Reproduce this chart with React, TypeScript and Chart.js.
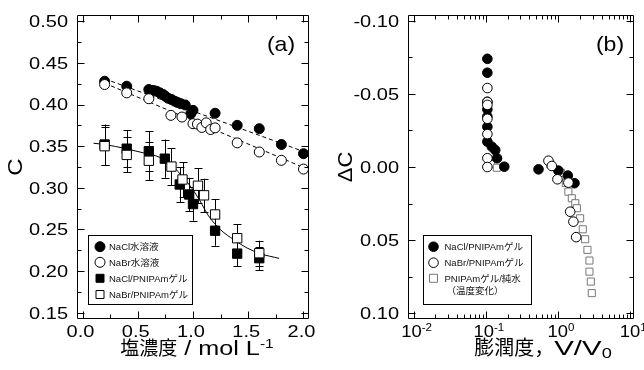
import React, { useEffect, useRef } from 'react';
import { Chart, registerables } from 'chart.js';

Chart.register(...registerables);

// ================= Panel (a): C vs salt concentration =================
const concTicks = [0, 0.5, 1.0, 1.5, 2.0];
const concMinor = [0.25, 0.75, 1.25, 1.75];
const cTicks = [0.15, 0.2, 0.25, 0.3, 0.35, 0.4, 0.45, 0.5];
const cMinor = [0.175, 0.225, 0.275, 0.325, 0.375, 0.425, 0.475];

const naclWaterConc = [0.2, 0.4, 0.6, 0.64, 0.67, 0.7, 0.73, 0.75, 0.775, 0.805, 0.835, 0.86, 0.89, 0.93, 0.98, 1.0, 1.2, 1.4, 1.6, 1.8, 2.0];
const naclWaterC = [0.428, 0.422, 0.418, 0.417, 0.416, 0.414, 0.412, 0.41, 0.4075, 0.406, 0.404, 0.4025, 0.401, 0.3995, 0.389, 0.393, 0.3895, 0.375, 0.371, 0.352, 0.341];

const nabrWaterConc = [0.2, 0.4, 0.6, 0.8, 0.9, 1.0, 1.04, 1.08, 1.12, 1.16, 1.2, 1.4, 1.6, 1.8, 2.0];
const nabrWaterC = [0.424, 0.414, 0.407, 0.387, 0.385, 0.377, 0.3765, 0.3725, 0.378, 0.37, 0.372, 0.354, 0.343, 0.333, 0.3225];

const naclGelConc = [0.2, 0.4, 0.6, 0.745, 0.88, 0.965, 1.0, 1.2, 1.4, 1.6];
const naclGelC = [0.352, 0.347, 0.344, 0.335, 0.304, 0.292, 0.2805, 0.2485, 0.221, 0.2155];
const naclGelErr = [0.024, 0.022, 0.024, 0.023, 0.021, 0.02, 0.02, 0.018, 0.015, 0.014];

const nabrGelConc = [0.2, 0.4, 0.6, 0.805, 0.905, 1.045, 1.1, 1.2, 1.4, 1.6];
const nabrGelC = [0.35, 0.3395, 0.3325, 0.3255, 0.31, 0.3025, 0.291, 0.268, 0.2395, 0.2215];
const nabrGelErr = [0.023, 0.021, 0.023, 0.022, 0.021, 0.021, 0.02, 0.018, 0.017, 0.015];

const naclWaterFitConc = [0.2, 2.05];
const naclWaterFitC = [0.4309, 0.3412];
const nabrWaterFitConc = [0.2, 2.05];
const nabrWaterFitC = [0.4257, 0.3216];

const gelFitConc = [0.1, 0.2, 0.4, 0.55, 0.7, 0.82, 0.91, 0.99, 1.06, 1.14, 1.25, 1.37, 1.49, 1.61, 1.78];
const gelFitC = [0.3535, 0.352, 0.3468, 0.342, 0.3365, 0.3255, 0.3125, 0.2995, 0.285, 0.2665, 0.2496, 0.2377, 0.2277, 0.2209, 0.2153];

const seriesA = ['NaCl水溶液', 'NaBr水溶液', 'NaCl/PNIPAmゲル', 'NaBr/PNIPAmゲル'];

// ================= Panel (b): ΔC vs swelling ratio =================
const swellTicks = [0.01, 0.1, 1, 10];
const swellMinor = [0.02, 0.03, 0.04, 0.05, 0.06, 0.07, 0.08, 0.09, 0.2, 0.3, 0.4, 0.5, 0.6, 0.7, 0.8, 0.9, 2, 3, 4, 5, 6, 7, 8, 9];
const dcTicks = [-0.1, -0.05, 0, 0.05, 0.1];
const dcMinor = [-0.075, -0.025, 0.025, 0.075];

const naclSwell = [0.105, 0.105, 0.105, 0.105, 0.105, 0.105, 0.105, 0.121, 0.135, 0.143, 0.18, 0.536, 1.01, 1.365, 1.687];
const naclDC = [-0.074, -0.0645, -0.0446, -0.0394, -0.0345, -0.0275, -0.0173, -0.0139, -0.0116, -0.006, -0.0002, 0.0016, 0.0025, 0.0059, 0.0111];

const nabrSwell = [0.105, 0.105, 0.105, 0.105, 0.105, 0.105, 0.105, 0.736, 0.82, 0.98, 1.39, 1.47, 1.63, 1.78];
const nabrDC = [-0.054, -0.0445, -0.0425, -0.033, -0.0225, -0.006, 0.0, -0.0043, -0.0007, 0.0084, 0.0107, 0.0306, 0.0374, 0.048];

const waterSwell = [0.118, 0.142, 0.78, 1.1, 1.28, 1.39, 1.55, 1.73, 1.82, 2.02, 2.2, 2.37, 2.55, 2.72, 2.72, 2.84, 2.93];
const waterDC = [-0.002, 0.0005, -0.002, 0.004, 0.011, 0.0169, 0.0214, 0.0248, 0.0282, 0.0351, 0.0426, 0.0494, 0.0567, 0.064, 0.0716, 0.0784, 0.0863];

const seriesB = ['NaCl/PNIPAmゲル', 'NaBr/PNIPAmゲル', 'PNIPAmゲル/純水\n（温度変化）'];

// ================= helpers =================
const LATIN = "'Liberation Sans', Arial, Helvetica, sans-serif";
const MIX = "'Liberation Sans', 'Noto Sans CJK JP', sans-serif";
const CJK = "'Noto Sans CJK JP', 'Liberation Sans', sans-serif";

const zip = (xs: number[], ys: number[]) => xs.map((x, i) => ({ x, y: ys[i] }));

interface Seg { text: string; size: number; family?: string; sx?: number; dy?: number }

function drawText(ctx: CanvasRenderingContext2D, segs: Seg[], x: number, y: number, align: 'left' | 'center' | 'right', rot = 0, color = '#000') {
  ctx.save();
  ctx.translate(x, y);
  if (rot) ctx.rotate(rot);
  ctx.fillStyle = color;
  ctx.textBaseline = 'alphabetic';
  ctx.textAlign = 'left';
  const widths = segs.map((s) => {
    ctx.font = `${s.size}px ${s.family ?? LATIN}`;
    return ctx.measureText(s.text).width * (s.sx ?? 1);
  });
  const total = widths.reduce((a, b) => a + b, 0);
  let cx = align === 'center' ? -total / 2 : align === 'right' ? -total : 0;
  segs.forEach((s, i) => {
    ctx.save();
    ctx.font = `${s.size}px ${s.family ?? LATIN}`;
    ctx.translate(cx, s.dy ?? 0);
    ctx.scale(s.sx ?? 1, 1);
    ctx.fillText(s.text, 0, 0);
    ctx.restore();
    cx += widths[i];
  });
  ctx.restore();
}

function drawMarker(ctx: CanvasRenderingContext2D, style: string, r: number, x: number, y: number, fill: string, stroke: string) {
  ctx.save();
  ctx.fillStyle = fill;
  ctx.strokeStyle = stroke;
  ctx.lineWidth = 1;
  ctx.beginPath();
  if (style === 'circle') ctx.arc(x, y, r, 0, Math.PI * 2);
  else ctx.rect(x - r, y - r, 2 * r, 2 * r);
  ctx.fill();
  ctx.stroke();
  ctx.restore();
}

interface Spec {
  xMinor: number[];
  yMinor: number[];
  xLabel: (v: number) => Seg[];
  yLabel: (v: number) => string;
  xLabelShift: number;
  xTitle: Seg[];
  xTitleX: number;
  yTitle: Seg[];
  tag: string;
  tagX: number;
  legend: { left: number; top: number; right: number; bottom: number; markerX: number; textX: number; rows: number[]; lineGap: number; count: number };
}

function makeDecor(spec: Spec) {
  return {
    id: 'panelDecor',
    beforeDatasetsDraw(chart: any) {
      const { ctx } = chart;
      const ys = chart.scales.y;
      ctx.save();
      ctx.strokeStyle = '#000';
      ctx.lineWidth = 1;
      chart.data.datasets.forEach((ds: any, di: number) => {
        if (!ds.errors) return;
        const meta = chart.getDatasetMeta(di);
        meta.data.forEach((pt: any, i: number) => {
          const v = ds.data[i].y;
          const e = ds.errors[i];
          const px = Math.round(pt.x) + 0.5;
          const y1 = ys.getPixelForValue(v + e);
          const y2 = ys.getPixelForValue(v - e);
          ctx.beginPath();
          ctx.moveTo(px, y1);
          ctx.lineTo(px, y2);
          ctx.moveTo(px - 4, Math.round(y1) + 0.5);
          ctx.lineTo(px + 4, Math.round(y1) + 0.5);
          ctx.moveTo(px - 4, Math.round(y2) + 0.5);
          ctx.lineTo(px + 4, Math.round(y2) + 0.5);
          ctx.stroke();
        });
      });
      ctx.restore();
    },
    afterDraw(chart: any) {
      const { ctx, chartArea: a } = chart;
      const xs = chart.scales.x;
      const ys = chart.scales.y;
      const L = Math.round(a.left) + 0.5;
      const R = Math.round(a.right) - 0.5;
      const T = Math.round(a.top) + 0.5;
      const B = Math.round(a.bottom) - 0.5;
      ctx.save();
      ctx.strokeStyle = '#000';
      ctx.lineWidth = 1;
      ctx.beginPath();
      ctx.rect(L, T, R - L, B - T);
      const xt = (v: number, len: number) => {
        const p = Math.round(xs.getPixelForValue(v)) + 0.5;
        ctx.moveTo(p, B); ctx.lineTo(p, B - len);
        ctx.moveTo(p, T); ctx.lineTo(p, T + len);
      };
      const yt = (v: number, len: number) => {
        const p = Math.round(ys.getPixelForValue(v)) + 0.5;
        ctx.moveTo(L, p); ctx.lineTo(L + len, p);
        ctx.moveTo(R, p); ctx.lineTo(R - len, p);
      };
      xs.ticks.forEach((t: any) => xt(t.value, 7));
      spec.xMinor.forEach((v) => xt(v, 4));
      ys.ticks.forEach((t: any) => yt(t.value, 7));
      spec.yMinor.forEach((v) => yt(v, 4));
      ctx.stroke();
      ctx.restore();

      // tick labels
      ys.ticks.forEach((t: any) => {
        const p = ys.getPixelForValue(t.value);
        drawText(ctx, [{ text: spec.yLabel(t.value), size: 16, sx: 1.25 }], a.left - 9, p + 5.8, 'right');
      });
      xs.ticks.forEach((t: any) => {
        const p = xs.getPixelForValue(t.value);
        drawText(ctx, spec.xLabel(t.value), p + spec.xLabelShift, a.bottom + 18, 'center');
      });

      // axis titles
      drawText(ctx, spec.xTitle, spec.xTitleX, 355, 'center');
      drawText(ctx, spec.yTitle, 21.7, (a.top + a.bottom) / 2, 'center', -Math.PI / 2);

      // panel tag
      drawText(ctx, [{ text: spec.tag, size: 21, sx: 1.1 }], spec.tagX, 50.5, 'center');

      // legend
      const lg = spec.legend;
      ctx.save();
      ctx.fillStyle = '#fff';
      ctx.fillRect(lg.left, lg.top, lg.right - lg.left, lg.bottom - lg.top);
      ctx.strokeStyle = '#000';
      ctx.lineWidth = 1;
      ctx.strokeRect(lg.left + 0.5, lg.top + 0.5, lg.right - lg.left, lg.bottom - lg.top);
      ctx.restore();
      const dsets = chart.data.datasets.slice(0, lg.count);
      dsets.forEach((ds: any, i: number) => {
        const y = lg.rows[i];
        drawMarker(ctx, ds.pointStyle, ds.legendR, lg.markerX, y, ds.backgroundColor, ds.borderColor);
        const lines = String(ds.label).split('\n');
        lines.forEach((line, k) => {
          drawText(ctx, [{ text: line, size: 9.5, family: MIX }], lg.textX + (k > 0 ? 2 : 0), y + 3.4 + k * lg.lineGap, 'left', 0, '#111');
        });
      });
    },
  };
}

const fmt = (v: number, d: number) => (Math.abs(v) < 1e-9 ? 0 : v).toFixed(d);

function buildA(): any {
  const spec: Spec = {
    xMinor: concMinor,
    yMinor: cMinor,
    xLabel: (v) => [{ text: fmt(v, 1), size: 16, sx: 1.25 }],
    yLabel: (v) => fmt(v, 2),
    xLabelShift: -2,
    xTitle: [
      { text: '塩濃度', size: 19, family: CJK },
      { text: ' / mol L', size: 21, sx: 1.2 },
      { text: '-1', size: 13, sx: 1.2, dy: -7 },
    ],
    xTitleX: 197,
    yTitle: [{ text: 'C', size: 20, sx: 1.2 }],
    tag: '(a)',
    tagX: 281,
    legend: { left: 88, top: 235, right: 192, bottom: 304, markerX: 100, textX: 109, rows: [246.7, 262.3, 278.3, 294.5], lineGap: 12.4, count: 4 },
  };
  return {
    type: 'scatter',
    data: {
      datasets: [
        { label: seriesA[0], data: zip(naclWaterConc, naclWaterC), pointStyle: 'circle', pointRadius: 5, legendR: 5, backgroundColor: '#000', borderColor: '#000', borderWidth: 1, order: 3 },
        { label: seriesA[1], data: zip(nabrWaterConc, nabrWaterC), pointStyle: 'circle', pointRadius: 5, legendR: 5, backgroundColor: '#fff', borderColor: '#000', borderWidth: 1, order: 2 },
        { label: seriesA[2], data: zip(naclGelConc, naclGelC), errors: naclGelErr, pointStyle: 'rect', pointRadius: 6.6, legendR: 4, backgroundColor: '#000', borderColor: '#000', borderWidth: 1, order: 1 },
        { label: seriesA[3], data: zip(nabrGelConc, nabrGelC), errors: nabrGelErr, pointStyle: 'rect', pointRadius: 6.6, legendR: 4, backgroundColor: '#fff', borderColor: '#000', borderWidth: 1, order: 0 },
        { label: 'fitNaCl', data: zip(naclWaterFitConc, naclWaterFitC), showLine: true, pointRadius: 0, borderColor: '#000', borderWidth: 1, borderDash: [4, 3], order: 10 },
        { label: 'fitNaBr', data: zip(nabrWaterFitConc, nabrWaterFitC), showLine: true, pointRadius: 0, borderColor: '#000', borderWidth: 1, borderDash: [4, 3], order: 10 },
        { label: 'fitGel', data: zip(gelFitConc, gelFitC), showLine: true, pointRadius: 0, borderColor: '#000', borderWidth: 1, cubicInterpolationMode: 'monotone', order: 10 },
      ],
    },
    options: {
      responsive: false,
      animation: false,
      devicePixelRatio: 1,
      events: [],
      layout: { padding: { left: 0, right: 21, top: 15, bottom: 0 } },
      plugins: { legend: { display: false }, tooltip: { enabled: false } },
      scales: {
        x: {
          type: 'linear', position: 'bottom', min: -0.05, max: 2.05,
          grid: { display: false, drawTicks: false }, border: { display: false }, ticks: { display: false },
          afterBuildTicks: (s: any) => { s.ticks = concTicks.map((value) => ({ value })); },
          afterFit: (s: any) => { s.height = 51; },
        },
        y: {
          type: 'linear', position: 'left', min: 0.1425, max: 0.5075,
          grid: { display: false, drawTicks: false }, border: { display: false }, ticks: { display: false },
          afterBuildTicks: (s: any) => { s.ticks = cTicks.map((value) => ({ value })); },
          afterFit: (s: any) => { s.width = 77; },
        },
      },
    },
    plugins: [makeDecor(spec)],
  };
}

function buildB(): any {
  const spec: Spec = {
    xMinor: swellMinor,
    yMinor: dcMinor,
    xLabel: (v) => [
      { text: '10', size: 16, sx: 1.15 },
      { text: String(Math.round(Math.log10(v))), size: 10.5, dy: -6.5, sx: 1.1 },
    ],
    yLabel: (v) => fmt(v, 2),
    xLabelShift: 3,
    xTitle: [
      { text: '膨潤度，', size: 20, family: CJK },
      { text: 'V/V', size: 21, sx: 1.4 },
      { text: '0', size: 14, sx: 1.3, dy: 3 },
    ],
    xTitleX: 213,
    yTitle: [{ text: 'ΔC', size: 20, sx: 1.1 }],
    tag: '(b)',
    tagX: 280,
    legend: { left: 93, top: 235, right: 201, bottom: 304, markerX: 103.5, textX: 114.5, rows: [246.7, 262.7, 278.3], lineGap: 12.4, count: 3 },
  };
  return {
    type: 'scatter',
    data: {
      datasets: [
        { label: seriesB[0], data: zip(naclSwell, naclDC), pointStyle: 'circle', pointRadius: 4.8, legendR: 4.8, backgroundColor: '#000', borderColor: '#000', borderWidth: 1, order: 1 },
        { label: seriesB[1], data: zip(nabrSwell, nabrDC), pointStyle: 'circle', pointRadius: 4.8, legendR: 4.8, backgroundColor: '#fff', borderColor: '#000', borderWidth: 1, order: 0 },
        { label: seriesB[2], data: zip(waterSwell, waterDC), pointStyle: 'rect', pointRadius: 5, legendR: 4, backgroundColor: '#fff', borderColor: '#777', borderWidth: 1, order: 2 },
      ],
    },
    options: {
      responsive: false,
      animation: false,
      devicePixelRatio: 1,
      events: [],
      layout: { padding: { left: 0, right: 10, top: 15, bottom: 0 } },
      plugins: { legend: { display: false }, tooltip: { enabled: false } },
      scales: {
        x: {
          type: 'logarithmic', position: 'bottom', min: 0.008366, max: 11.25,
          grid: { display: false, drawTicks: false }, border: { display: false }, ticks: { display: false },
          afterBuildTicks: (s: any) => { s.ticks = swellTicks.map((value) => ({ value })); },
          afterFit: (s: any) => { s.height = 51; },
        },
        y: {
          type: 'linear', position: 'left', min: -0.104, max: 0.104, reverse: true,
          grid: { display: false, drawTicks: false }, border: { display: false }, ticks: { display: false },
          afterBuildTicks: (s: any) => { s.ticks = dcTicks.map((value) => ({ value })); },
          afterFit: (s: any) => { s.width = 78; },
        },
      },
    },
    plugins: [makeDecor(spec)],
  };
}

function Panel({ width, left, build }: { width: number; left: number; build: () => any }) {
  const ref = useRef<HTMLCanvasElement>(null);
  useEffect(() => {
    const chart = new Chart(ref.current as HTMLCanvasElement, build());
    return () => chart.destroy();
  }, [build]);
  return (
    <canvas
      ref={ref}
      width={width}
      height={370}
      style={{ position: 'absolute', left, top: 0, width, height: 370 }}
    />
  );
}

export default function App() {
  return (
    <div style={{ position: 'fixed', left: 0, top: 0, width: 644, height: 370, background: '#fff', overflow: 'hidden' }}>
      <Panel width={330} left={0} build={buildA} />
      <Panel width={314} left={330} build={buildB} />
    </div>
  );
}
